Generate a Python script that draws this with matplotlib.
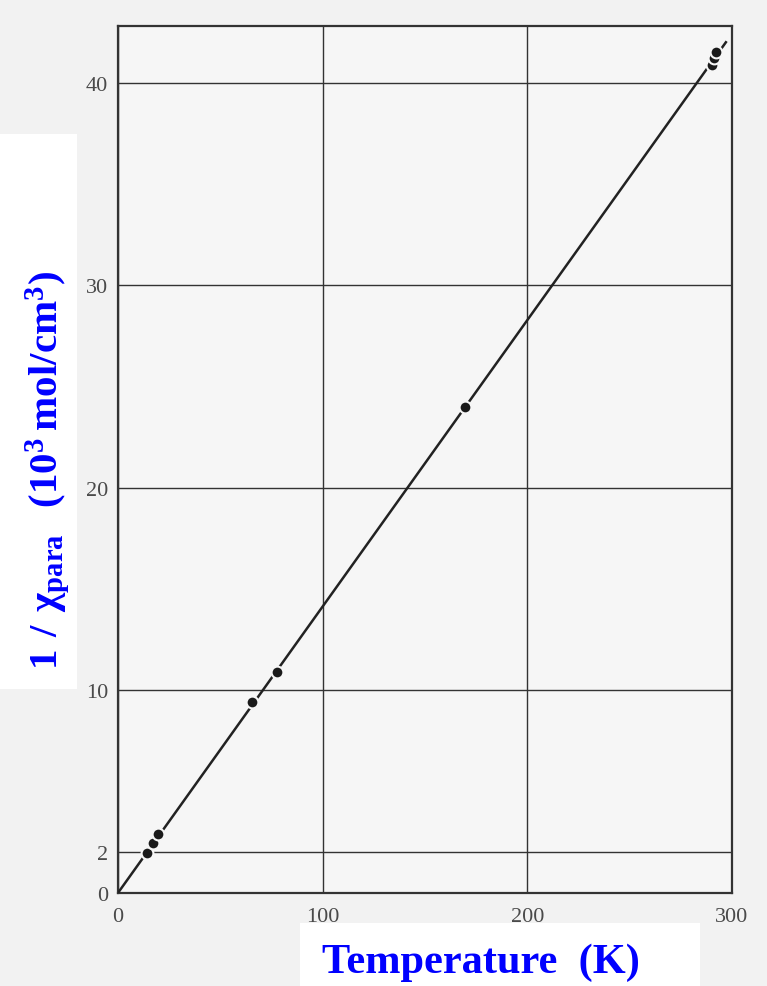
import numpy as np
import matplotlib.pyplot as plt
from matplotlib.patches import Rectangle

temp = [14.0, 17.0, 19.8, 65.3, 77.5, 169.5, 290.0, 291.2, 292.3]
inv_chi = [1.97, 2.45, 2.9, 9.45, 10.9, 24.0, 40.9, 41.2, 41.5]

# Fitted straight line through the origin
fit_t = [0.0, 297.0]
fit_y = [0.0, 42.0]

xticks = [0, 100, 200, 300]
yticks = [0, 2, 10, 20, 30, 40]

plt.rcParams['mathtext.fontset'] = 'custom'
plt.rcParams['mathtext.bf'] = 'Liberation Serif:bold'
plt.rcParams['mathtext.rm'] = 'Liberation Serif:bold'

fig = plt.figure(figsize=(7.67, 9.87), dpi=100, facecolor='#f2f2f2')
ax = fig.add_axes([0.1538, 0.0943, 0.8006, 0.8783])
ax.set_facecolor('#f6f6f6')

ax.plot(fit_t, fit_y, '-', color='#222222', lw=1.8, zorder=3)
ax.plot(temp, inv_chi, 'o', color='#1a1a1a', ms=8.5, mec='#f6f6f6', mew=1.5, zorder=4)

ax.set_xlim(0, 300)
ax.set_ylim(0, 42.8)
ax.set_xticks(xticks)
ax.set_yticks(yticks)
ax.tick_params(length=0, labelsize=16, labelcolor='#4a4a4a')
ax.tick_params(axis='x', pad=10)
ax.tick_params(axis='y', pad=7)
for lab in ax.get_xticklabels() + ax.get_yticklabels():
    lab.set_family('Liberation Serif')
ax.grid(True, color='#333333', lw=1.0)
for s in ax.spines.values():
    s.set_color('#333333')
    s.set_linewidth(1.6)

# white boxes pasted over the scan behind the axis titles
fig.patches.append(Rectangle((0.0, 0.301), 0.1004, 0.562, transform=fig.transFigure,
                             facecolor='white', edgecolor='none', zorder=0))
fig.patches.append(Rectangle((0.391, 0.0), 0.522, 0.064, transform=fig.transFigure,
                             facecolor='white', edgecolor='none', zorder=0))

fig.text(0.0627, 0.523, r'$\mathbf{1\ /\ \chi_{para}\ \ (10^3\,mol/cm^3)}$',
         rotation=90, ha='center', va='center', color='#0000ff', fontsize=29.5)
fig.text(0.627, 0.025, 'Temperature  (K)', family='Liberation Serif',
         weight='bold', ha='center', va='center', color='#0000ff', fontsize=30.5)

fig.savefig('out.png', dpi=100, facecolor=fig.get_facecolor())
